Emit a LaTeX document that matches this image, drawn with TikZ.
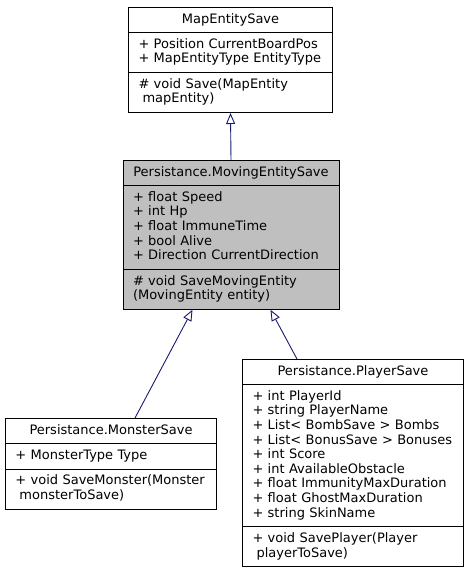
\documentclass[tikz,border=0pt]{standalone}
\usepackage{fontspec}
\setmainfont{DejaVu Sans}
\usetikzlibrary{shapes.multipart,arrows.meta,positioning,calc}
\definecolor{edgeblue}{RGB}{25,25,112}
\definecolor{basegray}{RGB}{191,191,191}

\begin{document}
\begin{tikzpicture}[x=1pt, y=-1pt,
  umlclass/.style={rectangle split, rectangle split parts=3, draw=black, line width=0.9pt,
    inner xsep=10pt, inner ysep=4.9pt, font=\fontsize{13}{14.6}\selectfont, align=left, anchor=north},
  inherit/.style={draw=edgeblue, line width=0.9pt, -{Triangle[open, length=11pt, width=9pt]}}]
  \useasboundingbox (0,0) rectangle (469,573);

  % Base class
  \node[umlclass, text width=184pt] (mapentity) at (230.5,7)
    {\centering\strut MapEntitySave\strut\par
     \nodepart{second}\strut + Position CurrentBoardPos\\+ MapEntityType EntityType\strut
     \nodepart{third}\strut \# void Save(MapEntity\\\hspace*{4pt}mapEntity)\strut};

  % Moving entities
  \node[umlclass, text width=196pt, fill=basegray] (moving) at (231,160)
    {\centering\strut Persistance.MovingEntitySave\strut\par
     \nodepart{second}\strut + float Speed\\+ int Hp\\+ float ImmuneTime\\+ bool Alive\\+ Direction CurrentDirection\strut
     \nodepart{third}\strut \# void SaveMovingEntity\\(MovingEntity entity)\strut};

  % Derived classes
  \node[umlclass, text width=191pt] (monster) at (111,418)
    {\centering\strut Persistance.MonsterSave\strut\par
     \nodepart{second}\strut + MonsterType Type\strut
     \nodepart{third}\strut + void SaveMonster(Monster\\\hspace*{4pt}monsterToSave)\strut};

  \node[umlclass, text width=201pt] (player) at (353,359)
    {\centering\strut Persistance.PlayerSave\strut\par
     \nodepart{second}\strut + int PlayerId\\+ string PlayerName\\+ List< BombSave > Bombs\\+ List< BonusSave > Bonuses\\+ int Score\\+ int AvailableObstacle\\+ float ImmunityMaxDuration\\+ float GhostMaxDuration\\+ string SkinName\strut
     \nodepart{third}\strut + void SavePlayer(Player\\\hspace*{4pt}playerToSave)\strut};

  % Inheritance
  \draw[inherit] (moving.north) -- (mapentity.south);
  \draw[inherit] ([xshift=24pt]monster.north) -- ([xshift=-38.5pt]moving.south);
  \draw[inherit] ([xshift=-56pt]player.north) -- ([xshift=39.5pt]moving.south);
\end{tikzpicture}
\end{document}
